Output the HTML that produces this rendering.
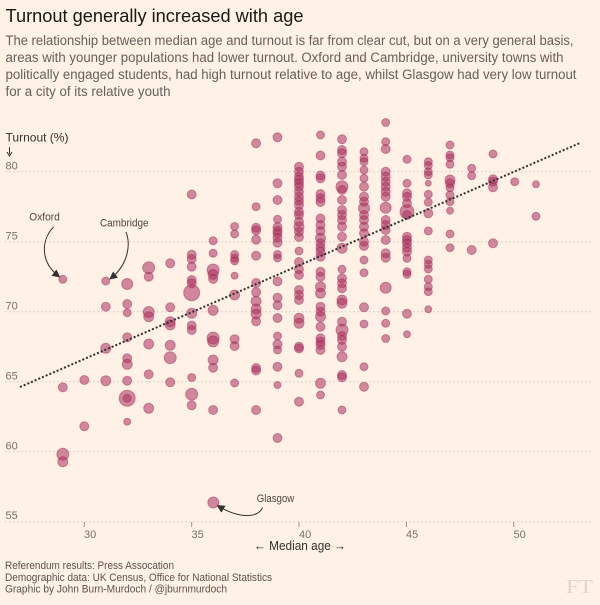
<!DOCTYPE html>
<html><head><meta charset="utf-8"><style>
html,body{margin:0;padding:0;background:#fff1e5;}
svg{display:block;font-family:"Liberation Sans",sans-serif;}
.d circle{fill:rgba(172,48,94,0.55);stroke:rgba(160,40,85,0.45);stroke-width:1;}
.g{stroke:#ddd2c7;stroke-width:1;stroke-dasharray:2,2;}
.yl{font-size:11px;fill:#7a716b;}
.xl{font-size:11px;fill:#7a716b;}
.an{font-size:11px;fill:#4d4845;}
.fn{font-size:11px;fill:#5a5350;}
</style></head><body>
<svg width="600" height="605" viewBox="0 0 600 605" xmlns="http://www.w3.org/2000/svg">
<defs><marker id="ah" viewBox="0 0 10 10" refX="8" refY="5" markerWidth="8" markerHeight="8" orient="auto" markerUnits="userSpaceOnUse"><path d="M0,0 L10,5 L0,10 z" fill="#33302e"/></marker></defs>
<rect width="600" height="605" fill="#fff1e5"/>
<text x="5.5" y="22" font-size="18" fill="#1a1817" textLength="298" lengthAdjust="spacingAndGlyphs">Turnout generally increased with age</text>
<g font-size="13.5" fill="#66605c">
<text x="5.5" y="45" textLength="568" lengthAdjust="spacingAndGlyphs">The relationship between median age and turnout is far from clear cut, but on a very general basis,</text>
<text x="5.5" y="62" textLength="558" lengthAdjust="spacingAndGlyphs">areas with younger populations had lower turnout. Oxford and Cambridge, university towns with</text>
<text x="5.5" y="79" textLength="571" lengthAdjust="spacingAndGlyphs">politically engaged students, had high turnout relative to age, whilst Glasgow had very low turnout</text>
<text x="5.5" y="96" textLength="165" lengthAdjust="spacingAndGlyphs">for a city of its relative youth</text>
</g>
<text x="5.5" y="141.5" font-size="12" fill="#33302e" textLength="63" lengthAdjust="spacingAndGlyphs">Turnout (%)</text>
<line x1="9.5" y1="147" x2="9.5" y2="154" stroke="#33302e" stroke-width="1"/>
<path d="M7,152 L9.5,156 L12,152" fill="none" stroke="#33302e" stroke-width="1"/>
<!-- gridlines -->
<line class="g" x1="5" y1="171.7" x2="592" y2="171.7"/>
<line class="g" x1="5" y1="241.7" x2="592" y2="241.7"/>
<line class="g" x1="5" y1="311.7" x2="592" y2="311.7"/>
<line class="g" x1="5" y1="381.7" x2="592" y2="381.7"/>
<line class="g" x1="5" y1="451.7" x2="592" y2="451.7"/>
<line class="g" x1="5" y1="521.7" x2="592" y2="521.7"/>
<text class="yl" x="5.5" y="169.5">80</text>
<text class="yl" x="5.5" y="239.5">75</text>
<text class="yl" x="5.5" y="309.5">70</text>
<text class="yl" x="5.5" y="379.5">65</text>
<text class="yl" x="5.5" y="449.5">60</text>
<text class="yl" x="5.5" y="519">55</text>
<!-- x ticks -->
<g stroke="#9a918a" stroke-width="1">
<line x1="84.3" y1="522" x2="84.3" y2="527"/>
<line x1="191.7" y1="522" x2="191.7" y2="527"/>
<line x1="299" y1="522" x2="299" y2="527"/>
<line x1="406.4" y1="522" x2="406.4" y2="527"/>
<line x1="513.7" y1="522" x2="513.7" y2="527"/>
</g>
<text class="xl" x="84" y="538">30</text>
<text class="xl" x="191.5" y="538">35</text>
<text class="xl" x="299" y="538">40</text>
<text class="xl" x="406" y="538">45</text>
<text class="xl" x="513.5" y="538">50</text>
<text x="254" y="550" font-size="13" fill="#33302e" textLength="92" lengthAdjust="spacingAndGlyphs">← Median age →</text>
<!-- data -->
<g class="d">
<circle cx="62.8" cy="279.3" r="4"/><circle cx="62.8" cy="387.3" r="4.5"/><circle cx="62.8" cy="454.3" r="6"/><circle cx="62.8" cy="461.7" r="5"/>
<circle cx="84.3" cy="380" r="4.5"/><circle cx="84.3" cy="426.3" r="4.5"/>
<circle cx="105.8" cy="281" r="4"/><circle cx="105.8" cy="306.7" r="4.5"/><circle cx="105.8" cy="348.3" r="5"/><circle cx="105.8" cy="380.7" r="5"/>
<circle cx="127.2" cy="284" r="5.5"/><circle cx="127.2" cy="304" r="4.5"/><circle cx="127.2" cy="312.7" r="4"/><circle cx="127.2" cy="337.3" r="4.5"/><circle cx="127.2" cy="358.3" r="4.5"/><circle cx="127.2" cy="364.3" r="5"/><circle cx="127.2" cy="380.7" r="4.5"/><circle cx="127.2" cy="398.3" r="8"/><circle cx="127.2" cy="398.3" r="4"/><circle cx="127.2" cy="421.7" r="3.5"/>
<circle cx="148.7" cy="267.7" r="6"/><circle cx="148.7" cy="276.7" r="4.5"/><circle cx="148.7" cy="312" r="5.5"/><circle cx="148.7" cy="316.7" r="5"/><circle cx="148.7" cy="344" r="5"/><circle cx="148.7" cy="374.3" r="4.5"/><circle cx="148.7" cy="408.3" r="5"/>
<circle cx="170.2" cy="263.3" r="4.5"/><circle cx="170.2" cy="307.3" r="4.5"/><circle cx="170.2" cy="321.7" r="5"/><circle cx="170.2" cy="325" r="5"/><circle cx="170.2" cy="345.3" r="5"/><circle cx="170.2" cy="357.7" r="6"/><circle cx="170.2" cy="382.3" r="4.5"/>
<circle cx="191.7" cy="194.5" r="4.5"/><circle cx="191.7" cy="254.7" r="4.5"/><circle cx="191.7" cy="259" r="4.5"/><circle cx="191.7" cy="266.7" r="4.5"/><circle cx="191.7" cy="280" r="4.5"/><circle cx="191.7" cy="283.3" r="4.5"/><circle cx="191.7" cy="292.7" r="8"/><circle cx="191.7" cy="313.3" r="5"/><circle cx="191.7" cy="325.5" r="4.5"/><circle cx="191.7" cy="330" r="4.5"/><circle cx="191.7" cy="377.5" r="4"/><circle cx="191.7" cy="394.2" r="6"/><circle cx="191.7" cy="405.3" r="4.5"/>
<circle cx="213.1" cy="240.8" r="4"/><circle cx="213.1" cy="253.3" r="4"/><circle cx="213.1" cy="270" r="6"/><circle cx="213.1" cy="274.5" r="5"/><circle cx="213.1" cy="279" r="4.5"/><circle cx="213.1" cy="310.3" r="5"/><circle cx="213.1" cy="338" r="6"/><circle cx="213.1" cy="341.5" r="5.5"/><circle cx="213.1" cy="360" r="5"/><circle cx="213.1" cy="367.7" r="4.5"/><circle cx="213.1" cy="410" r="4.5"/><circle cx="213.3" cy="502.5" r="5.5"/>
<circle cx="234.6" cy="226.5" r="4"/><circle cx="234.6" cy="234" r="4"/><circle cx="234.6" cy="254.5" r="4"/><circle cx="234.6" cy="258.3" r="4"/><circle cx="234.6" cy="261" r="4"/><circle cx="234.6" cy="275.7" r="3.5"/><circle cx="234.6" cy="295" r="5"/><circle cx="234.6" cy="339.2" r="4.5"/><circle cx="234.6" cy="346" r="4.5"/><circle cx="234.6" cy="383" r="4"/>
<circle cx="256.1" cy="143.3" r="4.5"/><circle cx="256.1" cy="206.7" r="4"/><circle cx="256.1" cy="227.8" r="4.5"/><circle cx="256.1" cy="230.5" r="4.5"/><circle cx="256.1" cy="239.7" r="4.5"/><circle cx="256.1" cy="255.7" r="4.5"/><circle cx="256.1" cy="283" r="4.5"/><circle cx="256.1" cy="292.2" r="4.5"/><circle cx="256.1" cy="301.2" r="5"/><circle cx="256.1" cy="309" r="5"/><circle cx="256.1" cy="314" r="5"/><circle cx="256.1" cy="321.3" r="4.5"/><circle cx="256.1" cy="368" r="4.5"/><circle cx="256.1" cy="370.5" r="4.5"/><circle cx="256.1" cy="410" r="4.5"/>
<circle cx="277.5" cy="137.3" r="4.5"/><circle cx="277.5" cy="183.3" r="4.5"/><circle cx="277.5" cy="200" r="4.5"/><circle cx="277.5" cy="219.3" r="4"/><circle cx="277.5" cy="227" r="4.5"/><circle cx="277.5" cy="230.8" r="4.5"/><circle cx="277.5" cy="233.5" r="4.5"/><circle cx="277.5" cy="237.8" r="4.5"/><circle cx="277.5" cy="242.7" r="4.5"/><circle cx="277.5" cy="254.5" r="4"/><circle cx="277.5" cy="258" r="4"/><circle cx="277.5" cy="281.4" r="4.5"/><circle cx="277.5" cy="297.7" r="4.5"/><circle cx="277.5" cy="305.3" r="4.5"/><circle cx="277.5" cy="318" r="4.5"/><circle cx="277.5" cy="336" r="4"/><circle cx="277.5" cy="344.3" r="4.5"/><circle cx="277.5" cy="350" r="4"/><circle cx="277.5" cy="366.7" r="4.5"/><circle cx="277.5" cy="385" r="3.5"/><circle cx="277.5" cy="438" r="4.5"/>
<circle cx="299" cy="166.7" r="4.5"/><circle cx="299" cy="171.7" r="4.5"/><circle cx="299" cy="176.7" r="4.5"/><circle cx="299" cy="180" r="4.5"/><circle cx="299" cy="183.3" r="4.5"/><circle cx="299" cy="186.7" r="4.5"/><circle cx="299" cy="191.7" r="4.5"/><circle cx="299" cy="196.7" r="4.5"/><circle cx="299" cy="201" r="4.5"/><circle cx="299" cy="205" r="4.5"/><circle cx="299" cy="211.7" r="4.5"/><circle cx="299" cy="215" r="4.5"/><circle cx="299" cy="221.7" r="4.5"/><circle cx="299" cy="226.7" r="5"/><circle cx="299" cy="231.7" r="4.5"/><circle cx="299" cy="237" r="4.5"/><circle cx="299" cy="251" r="4"/><circle cx="299" cy="262" r="4.5"/><circle cx="299" cy="269.3" r="4.5"/><circle cx="299" cy="275" r="4.5"/><circle cx="299" cy="290" r="4.5"/><circle cx="299" cy="295" r="4.5"/><circle cx="299" cy="300" r="4.5"/><circle cx="299" cy="318.3" r="5"/><circle cx="299" cy="323.3" r="5"/><circle cx="299" cy="346.7" r="4.5"/><circle cx="299" cy="348.5" r="4.5"/><circle cx="299" cy="373.3" r="4"/><circle cx="299" cy="401.7" r="4.5"/>
<circle cx="320.5" cy="135" r="4"/><circle cx="320.5" cy="155.5" r="4.5"/><circle cx="320.5" cy="175.5" r="4.5"/><circle cx="320.5" cy="178.3" r="4.5"/><circle cx="320.5" cy="194" r="4.5"/><circle cx="320.5" cy="198.3" r="4.5"/><circle cx="320.5" cy="202" r="4.5"/><circle cx="320.5" cy="218.5" r="4.5"/><circle cx="320.5" cy="225" r="4.5"/><circle cx="320.5" cy="231" r="4.5"/><circle cx="320.5" cy="238" r="5"/><circle cx="320.5" cy="243.3" r="4.5"/><circle cx="320.5" cy="247.7" r="4.5"/><circle cx="320.5" cy="251.7" r="4.5"/><circle cx="320.5" cy="256.7" r="4.5"/><circle cx="320.5" cy="271.7" r="4.5"/><circle cx="320.5" cy="276.7" r="4.5"/><circle cx="320.5" cy="286.7" r="5"/><circle cx="320.5" cy="293.3" r="5"/><circle cx="320.5" cy="306.7" r="4.5"/><circle cx="320.5" cy="311.7" r="4.5"/><circle cx="320.5" cy="316.7" r="5"/><circle cx="320.5" cy="326.7" r="4.5"/><circle cx="320.5" cy="338.3" r="4.5"/><circle cx="320.5" cy="341.7" r="4.5"/><circle cx="320.5" cy="345" r="4.5"/><circle cx="320.5" cy="350" r="4.5"/><circle cx="320.5" cy="383.3" r="5"/><circle cx="320.5" cy="395" r="4"/>
<circle cx="342" cy="139.3" r="4.5"/><circle cx="342" cy="150" r="4.5"/><circle cx="342" cy="153.3" r="4.5"/><circle cx="342" cy="161.7" r="4.5"/><circle cx="342" cy="166.7" r="4.5"/><circle cx="342" cy="175" r="4.5"/><circle cx="342" cy="186.7" r="6"/><circle cx="342" cy="190" r="4.5"/><circle cx="342" cy="200" r="4.5"/><circle cx="342" cy="210" r="4.5"/><circle cx="342" cy="215" r="4.5"/><circle cx="342" cy="220" r="4.5"/><circle cx="342" cy="226.7" r="4.5"/><circle cx="342" cy="236.7" r="4.5"/><circle cx="342" cy="248.3" r="5"/><circle cx="342" cy="269.3" r="4"/><circle cx="342" cy="278.3" r="4.5"/><circle cx="342" cy="283.3" r="4.5"/><circle cx="342" cy="288.3" r="4.5"/><circle cx="342" cy="300" r="5"/><circle cx="342" cy="303.3" r="5"/><circle cx="342" cy="321.7" r="4.5"/><circle cx="342" cy="330" r="6"/><circle cx="342" cy="336" r="4.5"/><circle cx="342" cy="340" r="4.5"/><circle cx="342" cy="346.7" r="4.5"/><circle cx="342" cy="356.7" r="5"/><circle cx="342" cy="375" r="4.5"/><circle cx="342" cy="377.3" r="4.5"/><circle cx="342" cy="410" r="4"/>
<circle cx="364" cy="151.7" r="4"/><circle cx="364" cy="158.3" r="4"/><circle cx="364" cy="161.7" r="4"/><circle cx="364" cy="170" r="4"/><circle cx="364" cy="178.3" r="4"/><circle cx="364" cy="186.7" r="4.5"/><circle cx="364" cy="196.7" r="4.5"/><circle cx="364" cy="201.7" r="4.5"/><circle cx="364" cy="208.3" r="5.5"/><circle cx="364" cy="215" r="4.5"/><circle cx="364" cy="220" r="4.5"/><circle cx="364" cy="226.7" r="4.5"/><circle cx="364" cy="233.3" r="4.5"/><circle cx="364" cy="241.7" r="4.5"/><circle cx="364" cy="246" r="4.5"/><circle cx="364" cy="260" r="4"/><circle cx="364" cy="272.7" r="4"/><circle cx="364" cy="307.3" r="4.5"/><circle cx="364" cy="324" r="4"/><circle cx="364" cy="366.7" r="4"/><circle cx="364" cy="386.7" r="4.5"/>
<circle cx="385.7" cy="122.5" r="4"/><circle cx="385.7" cy="141.7" r="4"/><circle cx="385.7" cy="149" r="4.5"/><circle cx="385.7" cy="171.7" r="4.5"/><circle cx="385.7" cy="176.7" r="4.5"/><circle cx="385.7" cy="181.7" r="4.5"/><circle cx="385.7" cy="186.7" r="4.5"/><circle cx="385.7" cy="191.7" r="4.5"/><circle cx="385.7" cy="196.7" r="4.5"/><circle cx="385.7" cy="207.7" r="5.5"/><circle cx="385.7" cy="220" r="4.5"/><circle cx="385.7" cy="225" r="4.5"/><circle cx="385.7" cy="230" r="4.5"/><circle cx="385.7" cy="240" r="4.5"/><circle cx="385.7" cy="253.3" r="4.5"/><circle cx="385.7" cy="257.7" r="4.5"/><circle cx="385.7" cy="287.7" r="5.5"/><circle cx="385.7" cy="311" r="4"/><circle cx="385.7" cy="323.3" r="4"/><circle cx="385.7" cy="338.5" r="4"/>
<circle cx="407" cy="159.3" r="4"/><circle cx="407" cy="183.3" r="4"/><circle cx="407" cy="193.3" r="4.5"/><circle cx="407" cy="196.7" r="4.5"/><circle cx="407" cy="203.3" r="4.5"/><circle cx="407" cy="211.7" r="7"/><circle cx="407" cy="215" r="4.5"/><circle cx="407" cy="236.7" r="4.5"/><circle cx="407" cy="240" r="4.5"/><circle cx="407" cy="243.3" r="4.5"/><circle cx="407" cy="247.7" r="4.5"/><circle cx="407" cy="251.7" r="4.5"/><circle cx="407" cy="258.3" r="4"/><circle cx="407" cy="271.7" r="4"/><circle cx="407" cy="274.3" r="4"/><circle cx="407" cy="313.7" r="4.5"/><circle cx="407" cy="334.3" r="3.5"/>
<circle cx="428.3" cy="161.7" r="4"/><circle cx="428.3" cy="165.5" r="4"/><circle cx="428.3" cy="171.7" r="4"/><circle cx="428.3" cy="175" r="4"/><circle cx="428.3" cy="183.3" r="3"/><circle cx="428.3" cy="194.3" r="4"/><circle cx="428.3" cy="202.3" r="4"/><circle cx="428.3" cy="213.3" r="4.5"/><circle cx="428.3" cy="231" r="4"/><circle cx="428.3" cy="260" r="4"/><circle cx="428.3" cy="264.3" r="4"/><circle cx="428.3" cy="269" r="4"/><circle cx="428.3" cy="279.3" r="4"/><circle cx="428.3" cy="286.7" r="4"/><circle cx="428.3" cy="291.7" r="4"/><circle cx="428.3" cy="309.3" r="3.5"/>
<circle cx="450" cy="145" r="4"/><circle cx="450" cy="155" r="4"/><circle cx="450" cy="157.7" r="4"/><circle cx="450" cy="164.3" r="4"/><circle cx="450" cy="180" r="5"/><circle cx="450" cy="183.3" r="4.5"/><circle cx="450" cy="187.7" r="4"/><circle cx="450" cy="195" r="4"/><circle cx="450" cy="201.7" r="4"/><circle cx="450" cy="210.7" r="3.5"/><circle cx="450" cy="234" r="4"/><circle cx="450" cy="247.7" r="4"/>
<circle cx="471.7" cy="168.3" r="4"/><circle cx="471.7" cy="175.7" r="4"/><circle cx="471.7" cy="250" r="4.5"/>
<circle cx="493" cy="154" r="4"/><circle cx="493" cy="179.3" r="4.5"/><circle cx="493" cy="181.7" r="4.5"/><circle cx="493" cy="187.3" r="4.5"/><circle cx="493" cy="243.3" r="4.5"/>
<circle cx="514.7" cy="181.7" r="4"/>
<circle cx="536" cy="184.3" r="3.5"/><circle cx="536" cy="216.3" r="4"/>
</g>
<!-- trend line -->
<line x1="20" y1="387" x2="579.3" y2="143.3" stroke="#33302e" stroke-width="2" stroke-dasharray="2,2"/>
<!-- annotations -->
<text class="an" x="29.3" y="220.5" textLength="30.5" lengthAdjust="spacingAndGlyphs">Oxford</text>
<path d="M53.5,227 C41,240 40,262 59,276.5" fill="none" stroke="#33302e" stroke-width="1" marker-end="url(#ah)"/>
<text class="an" x="100" y="226.5" textLength="48.5" lengthAdjust="spacingAndGlyphs">Cambridge</text>
<path d="M126,232 C131,245 128,265 110.5,278.5" fill="none" stroke="#33302e" stroke-width="1" marker-end="url(#ah)"/>
<text class="an" x="256.7" y="502" textLength="37.6" lengthAdjust="spacingAndGlyphs">Glasgow</text>
<path d="M262.5,507.5 C258,518 240,519 218,506" fill="none" stroke="#33302e" stroke-width="1" marker-end="url(#ah)"/>
<!-- footnotes -->
<text class="fn" x="5" y="569" textLength="169" lengthAdjust="spacingAndGlyphs">Referendum results: Press Assocation</text>
<text class="fn" x="5" y="581" textLength="267" lengthAdjust="spacingAndGlyphs">Demographic data: UK Census, Office for National Statistics</text>
<text class="fn" x="5" y="592.5" textLength="222" lengthAdjust="spacingAndGlyphs">Graphic by John Burn-Murdoch / @jburnmurdoch</text>
<text x="566" y="593" font-family="Liberation Serif, serif" font-size="20" fill="#e3d6cb" textLength="27" lengthAdjust="spacingAndGlyphs">FT</text>
</svg>
</body></html>
